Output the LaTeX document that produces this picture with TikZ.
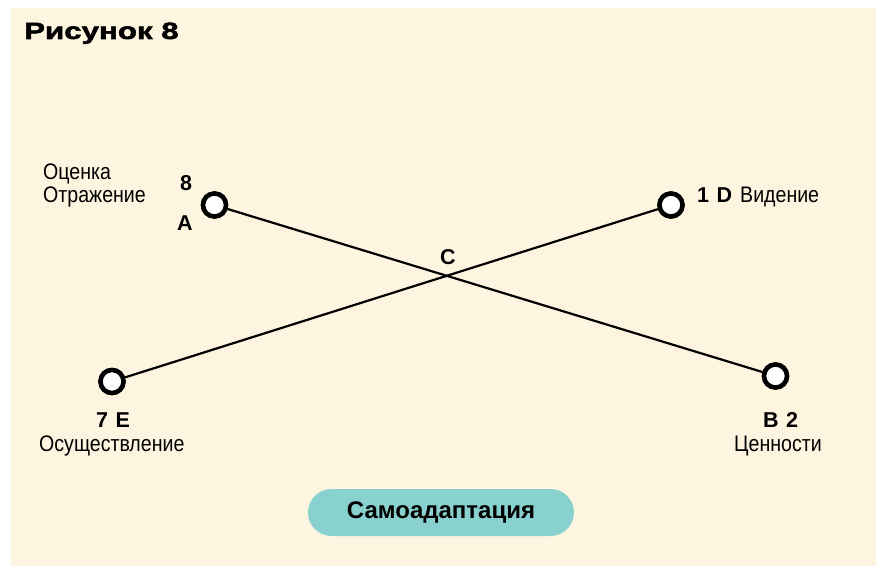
\documentclass[tikz,border=0pt]{standalone}
\usepackage{fontspec}
\setmainfont{Liberation Sans}
\newfontfamily\narrowfont[FakeStretch=0.87]{Liberation Sans}
\newfontfamily\blackfont[FakeStretch=1.33,FakeBold=2.2]{Liberation Sans Bold}
\definecolor{cream}{HTML}{FEF5E0}
\definecolor{pill}{HTML}{88D1CF}
\newcommand{\gapsp}{\hspace{7.5pt}}
\begin{document}
\begin{tikzpicture}[x=1pt,y=-1pt,
  pt/.style={circle,draw=black,fill=white,line width=4.5pt,minimum size=23pt,inner sep=0pt},
  lbl/.style={font=\fontsize{21.5}{25}\selectfont\bfseries,inner sep=0pt},
  word/.style={font=\fontsize{22.5}{25}\selectfont\narrowfont,inner sep=0pt,align=left},
  conn/.style={line width=2.2pt,draw=black}]
\useasboundingbox (0,0) rectangle (876,567);
\fill[white] (0,0) rectangle (876,567);
\fill[cream] (11,8) rectangle (876,566);
\node[anchor=base west,inner sep=0pt,font=\fontsize{23.5}{27}\selectfont\blackfont] (title) at (24,39) {Рисунок 8};
\node[pt] (A) at (214.5,205) {};
\node[pt] (D) at (671,205) {};
\node[pt] (E) at (112,381.5) {};
\node[pt] (B) at (775.5,376) {};
\draw[conn] (A) -- (B);
\draw[conn] (E) -- (D);
\node[pt] at (A) {};
\node[pt] at (D) {};
\node[pt] at (E) {};
\node[pt] at (B) {};
\node[word,anchor=base west] (w1) at (43,180) {Оценка};
\node[word,anchor=base west] (w2) at (43,203) {Отражение};
\node[lbl,anchor=base west] (n8) at (180,190) {8};
\node[lbl,anchor=base west] (nA) at (177,230) {A};
\node[lbl,anchor=base west] (n1D) at (697,203) {1\gapsp D};
\node[word,anchor=base west] (w3) at (740,203) {Видение};
\node[lbl,anchor=base west] (nC) at (440,264) {C};
\node[lbl,anchor=base west] (n7E) at (96,427) {7\gapsp E};
\node[word,anchor=base west] (w4) at (39,451) {Осуществление};
\node[lbl,anchor=base west] (nB2) at (763,427) {B\gapsp 2};
\node[word,anchor=base west] (w5) at (734,451) {Ценности};
\node[fill=pill,rounded corners=23.5pt,minimum width=266pt,minimum height=47pt,inner sep=0pt,font=\fontsize{24}{28}\selectfont\bfseries] (self) at (441,512.5) {Самоадаптация};
\end{tikzpicture}
\end{document}
